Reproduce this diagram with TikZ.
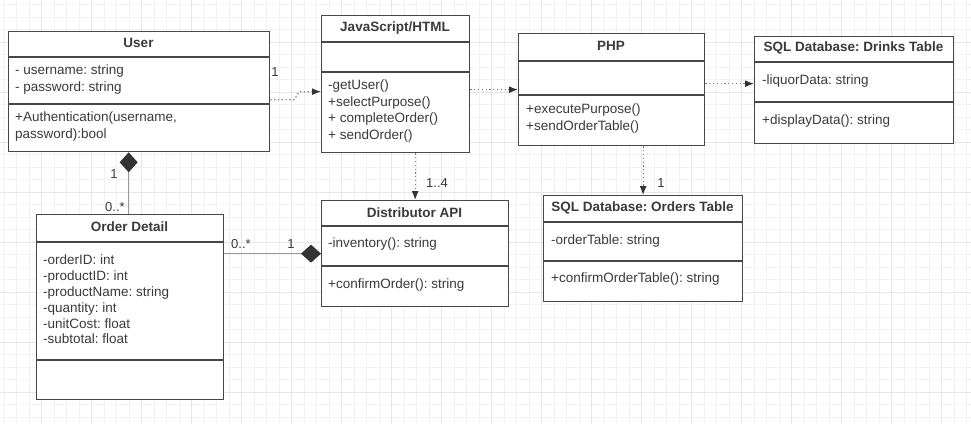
\documentclass[tikz,border=0pt]{standalone}
\usepackage{fontspec}
\setmainfont{Liberation Sans}
\usetikzlibrary{arrows.meta}
\frenchspacing

\definecolor{txtgray}{HTML}{3A3A3A}
\definecolor{boxgray}{HTML}{474747}
\definecolor{linegray}{HTML}{7A7A7A}
\definecolor{compgray}{HTML}{9A9A9A}
\definecolor{tipgray}{HTML}{333333}
\definecolor{gridminor}{HTML}{F2F2F2}
\definecolor{gridmajor}{HTML}{E6E6E6}

\begin{document}
\begin{tikzpicture}[x=1pt,y=-1pt,
  box/.style={draw=boxgray, line width=1.3pt, fill=white, anchor=north west, inner sep=0pt},
  sepline/.style={draw=boxgray, line width=1.3pt},
  ttl/.style={font=\bfseries\fontsize{13.5}{16}\selectfont, text=txtgray, inner sep=0pt},
  txt/.style={font=\fontsize{13.5}{16.5}\selectfont, text=txtgray, anchor=west, align=left, inner sep=0pt},
  lbl/.style={font=\fontsize{13}{15}\selectfont, text=txtgray, inner sep=0pt},
  dep/.style={draw=linegray, line width=1.2pt, dash pattern=on 1.2pt off 2.6pt,
    -{Latex[length=9pt,width=7pt,color=tipgray]}},
  comp/.style={draw=compgray, line width=1.3pt,
    -{Diamond[length=20pt,width=18pt,color=tipgray]}}]
\useasboundingbox (0,0) rectangle (971,424);
\fill[white] (0,0) rectangle (971,424);

% background grid
\foreach \i in {0,...,77} \draw[gridminor, line width=1pt] (4.2+12.5*\i,0) -- (4.2+12.5*\i,424);
\foreach \i in {0,...,33} \draw[gridminor, line width=1pt] (0,4.8+12.5*\i) -- (971,4.8+12.5*\i);
\foreach \i in {0,...,19} \draw[gridmajor, line width=1pt] (-8.3+50*\i,0) -- (-8.3+50*\i,424);
\foreach \i in {0,...,8} \draw[gridmajor, line width=1pt] (0,-7.7+50*\i) -- (971,-7.7+50*\i);

% User
\node[box, minimum width=261pt, minimum height=120pt] (user) at (8,31) {};
\draw[sepline] (8,57) -- (269,57) (8,104) -- (269,104);
\node[ttl] at (138.5,43) {User};
\node[txt] at (15,79.5) {- username: string\\- password: string};
\node[txt] at (15,126.5) {+Authentication(username,\\password):bool};

% JavaScript/HTML
\node[box, minimum width=148pt, minimum height=137pt] (js) at (321,15) {};
\draw[sepline] (321,42) -- (469,42) (321,72) -- (469,72);
\node[ttl] at (395,28) {JavaScript/HTML};
\node[txt] at (328,111) {-getUser()\\+selectPurpose()\\+ completeOrder()\\+ sendOrder()};

% PHP
\node[box, minimum width=186pt, minimum height=112pt] (php) at (518,33) {};
\draw[sepline] (518,61) -- (704,61) (518,95) -- (704,95);
\node[ttl] at (611,46) {PHP};
\node[txt] at (526,118.5) {+executePurpose()\\+sendOrderTable()};

% SQL Database: Drinks Table
\node[box, minimum width=199pt, minimum height=107pt] (drinks) at (754,36) {};
\draw[sepline] (754,62) -- (953,62) (754,102) -- (953,102);
\node[ttl] at (853.5,48) {SQL Database: Drinks Table};
\node[txt] at (762,81) {-liquorData: string};
\node[txt] at (762,121) {+displayData(): string};

% Order Detail
\node[box, minimum width=187pt, minimum height=185pt] (odetail) at (36,214) {};
\draw[sepline] (36,242) -- (223,242) (36,360) -- (223,360);
\node[ttl] at (129.5,227) {Order Detail};
\node[txt, font=\fontsize{13.5}{15.8}\selectfont] at (43,299.5)
  {-orderID: int\\-productID: int\\-productName: string\\-quantity: int\\-unitCost: float\\-subtotal: float};

% Distributor API
\node[box, minimum width=187pt, minimum height=106pt] (distapi) at (321,200) {};
\draw[sepline] (321,226) -- (508,226) (321,266) -- (508,266);
\node[ttl] at (414.5,213) {Distributor API};
\node[txt] at (328,244) {-inventory(): string};
\node[txt] at (328,285) {+confirmOrder(): string};

% SQL Database: Orders Table
\node[box, minimum width=199pt, minimum height=106pt] (orders) at (543,195) {};
\draw[sepline] (543,222) -- (742,222) (543,261) -- (742,261);
\node[ttl] at (642.5,208) {SQL Database: Orders Table};
\node[txt] at (551,241) {-orderTable: string};
\node[txt] at (551,279) {+confirmOrderTable(): string};

% connectors
\draw[dep] ([yshift=-8pt]user.east) -- ++(24,0) -- ++(5,-8) -- ([yshift=-7.5pt]js.west);
\draw[dep] ([yshift=-5.5pt]js.east) -- (php.west);
\draw[dep] ([yshift=6pt]php.east) -- ([yshift=6.5pt]drinks.west);
\draw[dep] ([xshift=19.5pt]js.south) -- (distapi.north);
\draw[dep] ([xshift=31.5pt]php.south) -- (orders.north);
\draw[comp] ([yshift=53.5pt]odetail.east) -- (distapi.west);
\draw[comp] ([xshift=-1.5pt]odetail.north) -- ([xshift=-10.5pt]user.south);

% multiplicities
\node[lbl] (m1) at (275,72) {1};
\node[lbl] (m2) at (114,174) {1};
\node[lbl] (m3) at (115,207) {0..*};
\node[lbl] (m4) at (437,183) {1..4};
\node[lbl] (m5) at (661,183) {1};
\node[lbl] (m6) at (241,244) {0..*};
\node[lbl] (m7) at (291,244) {1};
\end{tikzpicture}
\end{document}
